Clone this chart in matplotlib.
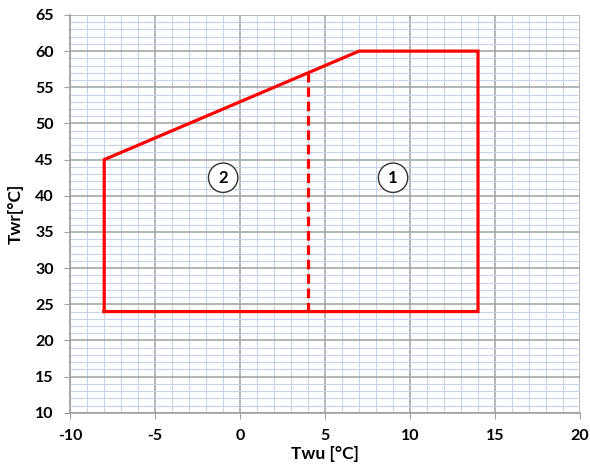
import numpy as np
import matplotlib
matplotlib.use("Agg")
import matplotlib.pyplot as plt
from matplotlib.ticker import MultipleLocator

# envelope of operating limits
env_x = [-8, -8, 7, 14, 14, -8]
env_y = [24, 45, 60, 60, 24, 24]
# split between zones
split_x = [4, 4]
split_y = [24, 57]
# zone labels
zone_names = ["2", "1"]
zone_x = [-1, 9]
zone_y = [42.5, 42.5]

plt.rcParams["font.family"] = ["Lato", "DejaVu Sans"]
plt.rcParams["axes.unicode_minus"] = False
fig = plt.figure(figsize=(5.9, 4.67), dpi=100)
ax = fig.add_axes([0.119, 0.116, 0.864, 0.852])

ax.set_xlim(-10, 20); ax.set_ylim(10, 65)
ax.xaxis.set_major_locator(MultipleLocator(5)); ax.xaxis.set_minor_locator(MultipleLocator(1))
ax.yaxis.set_major_locator(MultipleLocator(5)); ax.yaxis.set_minor_locator(MultipleLocator(1))
ax.grid(which="minor", color="#c8d2ea", lw=0.8)
ax.grid(which="major", color="#a0a0a0", lw=1.1)
ax.set_axisbelow(True)
for s in ("top", "right"):
    ax.spines[s].set_visible(False)
for s in ("left", "bottom"):
    ax.spines[s].set_color("#a0a0a0"); ax.spines[s].set_linewidth(1.2)
ax.tick_params(which="major", length=4, color="#a0a0a0", labelsize=11.5, pad=8)
ax.tick_params(which="minor", length=0)
for lab in ax.get_xticklabels() + ax.get_yticklabels():
    lab.set_fontweight("bold")

ax.plot(env_x, env_y, color="#ff0000", lw=2.3, solid_joinstyle="miter")
ax.plot(split_x, split_y, color="#ff0000", lw=2.3, ls=(0, (3, 1.5)))
for n, x, y in zip(zone_names, zone_x, zone_y):
    ax.text(x, y, n, ha="center", va="center", fontsize=12, fontweight="bold",
            bbox=dict(boxstyle="circle,pad=0.4", fc="white", ec="#333333", lw=1))

ax.set_xlabel("Twu [°C]", fontsize=12.5, fontweight="bold", labelpad=2)
ax.set_ylabel("Twr[°C]", fontsize=12.5, fontweight="bold", labelpad=8)
fig.savefig("out.png", dpi=100)
